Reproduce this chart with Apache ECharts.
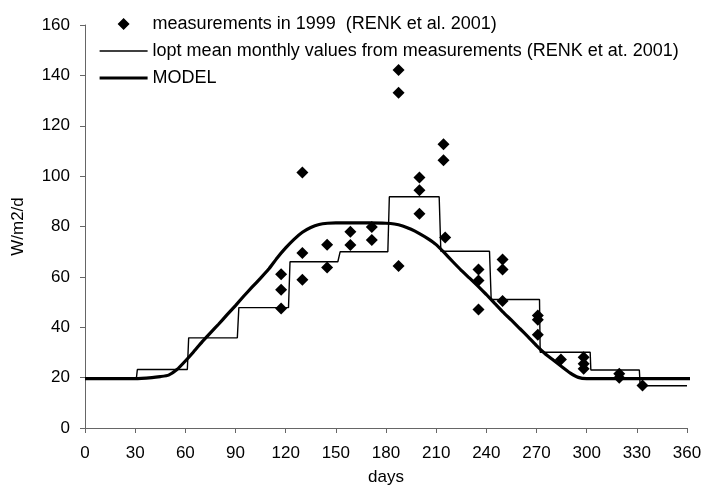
<!DOCTYPE html>
<html>
<head>
<meta charset="utf-8">
<script src="https://cdn.jsdelivr.net/npm/echarts@6/dist/echarts.min.js"></script>
<style>html,body{margin:0;padding:0;background:#fff}#c{width:706px;height:485px}</style>
</head>
<body>
<div id="c"></div>
<script>
// ---- data ----
const xTicks = [0, 30, 60, 90, 120, 150, 180, 210, 240, 270, 300, 330, 360];
const yTicks = [0, 20, 40, 60, 80, 100, 120, 140, 160];

const measDays = [117.3,117.3,117.3,130,130,130,144.8,144.8,158.7,158.7,171.5,171.5,187.5,187.5,187.5,200,200,200,214.4,214.4,215.4,235.3,235.3,235.3,249.7,249.7,249.7,270.8,270.8,270.8,284.6,298.2,298.2,298.2,319.5,319.5,333.4];
const measValues = [47.4,54.9,61,58.9,69.5,101.4,63.7,72.8,72.7,77.9,74.6,79.8,142.1,133.1,64.3,99.5,94.4,85.1,112.7,106.3,75.6,62.9,58.6,47,66.9,62.9,50.4,44.7,43,37,27.2,28.1,25.5,23.5,21.5,20,16.9];

const stepStart = [0, 31.3, 62, 92, 122.6, 152.6, 182, 212.8, 242.9, 272.2, 302.5, 332];
const stepEnd   = [30.7, 61.2, 91.1, 121.7, 151.2, 181.1, 211.8, 241.9, 271.8, 302.1, 331.5, 360];
const stepValue = [19.6, 23.2, 35.8, 47.8, 66.0, 70.0, 91.8, 70.2, 51.0, 30.1, 23.0, 16.8];

const modelDays = [0,10,20,30,40,45,50,55,60,65,70,75,80,85,90,95,100,105,110,115,120,125,130,135,140,145,150,160,170,180,185,190,195,200,205,210,215,220,225,230,235,240,245,250,255,260,265,270,275,280,285,290,295,300,310,320,330,340,350,363];
const modelValues = [19.6,19.6,19.6,19.6,20.0,20.4,21.0,23.2,26.6,30.3,34.2,37.8,41.3,45,48.6,52.4,56,59.5,63.2,67.6,71.5,74.9,77.7,79.6,80.8,81.3,81.4,81.4,81.4,81.3,81,80.2,78.9,77.2,75.2,72.8,69.5,66,62.6,59.5,56.3,53,49.5,46,42.8,39.5,36.2,32.7,29.6,27,24.4,21.9,20.1,19.6,19.6,19.6,19.6,19.6,19.6,19.6];

const nameMeas = 'measurements in 1999  (RENK et al. 2001)';
const nameStep = 'lopt mean monthly values from measurements (RENK et at. 2001)';
const nameModel = 'MODEL';

// ---- build ----
const measData = measDays.map((d, i) => [d, measValues[i]]);
const stepData = [];
stepStart.forEach((s, i) => { stepData.push([s, stepValue[i]]); stepData.push([stepEnd[i], stepValue[i]]); });
const modelData = modelDays.map((d, i) => [d, modelValues[i]]);

const FONT = 'Liberation Sans';
const FS = 17;
const axisColor = '#666';
const hiddenSym = {color: 'transparent', borderColor: 'transparent', borderWidth: 0};
// diamond centred in a 48x12 box (zero-area end points keep the box width)
const diamondIcon = 'path://M0,6 L0.001,6 Z M48,6 L47.999,6 Z M24,0 L30,6 L24,12 L18,6 Z';

const chart = echarts.init(document.getElementById('c'), null, {renderer: 'canvas'});
chart.setOption({
  animation: false,
  backgroundColor: '#fff',
  grid: {left: 85, right: 19, top: 25, bottom: 57, containLabel: false, outerBoundsMode: 'none'},
  legend: {
    orient: 'vertical', left: 98, top: 15, padding: 0,
    itemWidth: 48, itemHeight: 12, itemGap: 9,
    symbolKeepAspect: false,
    selectedMode: false,
    textStyle: {fontFamily: FONT, fontSize: 18, color: '#000'},
    data: [
      {name: nameMeas, icon: diamondIcon, itemStyle: {color: '#000', opacity: 1}},
      {name: nameStep, itemStyle: hiddenSym, lineStyle: {color: '#000', width: 1.4}},
      {name: nameModel, itemStyle: hiddenSym, lineStyle: {color: '#000', width: 3.2}}
    ]
  },
  xAxis: {
    type: 'value', min: xTicks[0], max: xTicks[xTicks.length - 1], interval: xTicks[1] - xTicks[0],
    name: 'days', nameLocation: 'middle', nameGap: 41,
    nameTextStyle: {fontFamily: FONT, fontSize: FS, color: '#000'},
    axisLine: {onZero: false, lineStyle: {color: axisColor, width: 1}},
    axisTick: {show: true, inside: false, length: 5, lineStyle: {color: axisColor}},
    axisLabel: {fontFamily: FONT, fontSize: FS, color: '#000', margin: 17},
    splitLine: {show: false}
  },
  yAxis: {
    type: 'value', min: yTicks[0], max: yTicks[yTicks.length - 1], interval: yTicks[1] - yTicks[0],
    name: 'W/m2/d', nameLocation: 'middle', nameGap: 58, nameRotate: 90,
    nameTextStyle: {fontFamily: FONT, fontSize: FS, color: '#000'},
    axisLine: {show: true, lineStyle: {color: axisColor, width: 1}},
    axisTick: {show: true, inside: false, length: 5, lineStyle: {color: axisColor}},
    axisLabel: {fontFamily: FONT, fontSize: FS, color: '#000', margin: 15},
    splitLine: {show: false}
  },
  series: [
    {
      name: nameMeas, type: 'scatter', data: measData, symbol: 'diamond', symbolSize: 12,
      itemStyle: {color: '#000', opacity: 1}, z: 5
    },
    {
      name: nameStep, type: 'line', data: stepData, symbol: 'none', showSymbol: false,
      lineStyle: {color: '#000', width: 1.4}, itemStyle: {color: '#000'}, z: 3
    },
    {
      name: nameModel, type: 'line', data: modelData, symbol: 'none', showSymbol: false, clip: false,
      smooth: 0.15,
      lineStyle: {color: '#000', width: 3.2}, itemStyle: {color: '#000'}, z: 4
    }
  ]
});
</script>
</body>
</html>
